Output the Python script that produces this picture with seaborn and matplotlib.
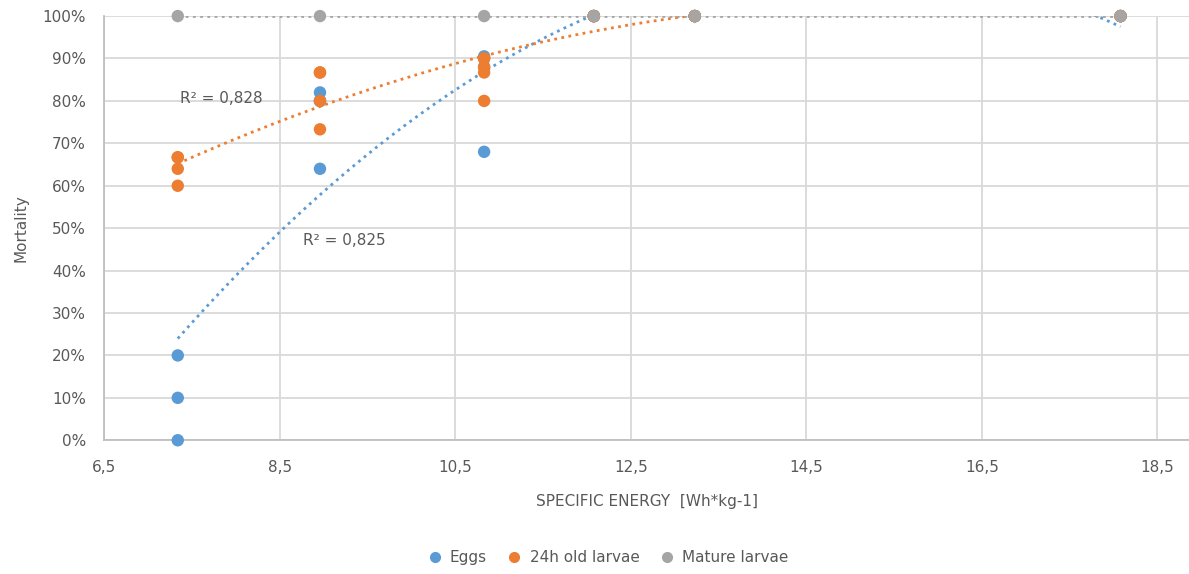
import numpy as np
import pandas as pd
import seaborn as sns
import matplotlib.pyplot as plt
from matplotlib.ticker import PercentFormatter, FuncFormatter
from matplotlib.lines import Line2D

# Dados (energia específica x mortalidade), réplicas sobrepostas incluídas
eggs_x = [7.34, 7.34, 7.34, 8.96, 8.96, 8.96, 8.96, 10.83, 10.83, 10.83,
          12.08, 12.08, 12.08, 13.23, 13.23, 13.23, 18.08, 18.08, 18.08]
eggs_y = [0.00, 0.10, 0.20, 0.64, 0.80, 0.80, 0.82, 0.68, 0.88, 0.905,
          1.00, 1.00, 1.00, 1.00, 1.00, 1.00, 1.00, 1.00, 1.00]

larvae24_x = [7.34, 7.34, 7.34, 7.34, 8.96, 8.96, 8.96, 8.96, 10.83, 10.83, 10.83, 10.83, 10.83,
              12.08, 12.08, 12.08, 13.23, 13.23, 13.23, 18.08, 18.08, 18.08]
larvae24_y = [0.60, 0.64, 0.667, 0.667, 0.733, 0.80, 0.867, 0.867, 0.80, 0.867, 0.88, 0.90, 0.90,
              1.00, 1.00, 1.00, 1.00, 1.00, 1.00, 1.00, 1.00, 1.00]

mature_x = [7.34, 8.96, 10.83, 12.08, 13.23, 18.08]
mature_y = [1.00, 1.00, 1.00, 1.00, 1.00, 1.00]

grupos = ['Eggs', '24h old larvae', 'Mature larvae']
cores = ['#5B9BD5', '#ED7D31', '#A5A5A5']
r2_textos = ['R² = 0,825', 'R² = 0,828']

df = pd.concat([
    pd.DataFrame({'energia': eggs_x, 'mortalidade': eggs_y, 'grupo': grupos[0]}),
    pd.DataFrame({'energia': larvae24_x, 'mortalidade': larvae24_y, 'grupo': grupos[1]}),
    pd.DataFrame({'energia': mature_x, 'mortalidade': mature_y, 'grupo': grupos[2]}),
])

sns.set_style('white')
plt.rcParams['font.family'] = ['DejaVu Sans']
cinza_texto = '#595959'
cinza_grade = '#D9D9D9'

fig = plt.figure(figsize=(11.89, 5.74), dpi=100)
ax = fig.add_axes([0.0875, 0.233, 0.9125, 0.739])

# Linhas de tendência polinomiais (ordem 2), como no Excel
for grupo, cor in zip(grupos, cores):
    d = df[df['grupo'] == grupo]
    coef = np.polyfit(d['energia'], d['mortalidade'], 2)
    xs = np.linspace(d['energia'].min(), d['energia'].max(), 200)
    ax.plot(xs, np.polyval(coef, xs), color=cor, linestyle=(0, (1, 1.6)), linewidth=2, zorder=2)

sns.scatterplot(data=df, x='energia', y='mortalidade', hue='grupo', palette=cores,
                s=80, edgecolor='none', ax=ax, legend=False, zorder=3, clip_on=False)

ax.set_xlim(6.5, 18.86)
ax.set_ylim(0, 1.0)
ax.set_xticks(np.arange(6.5, 18.6, 2.0))
ax.set_yticks(np.arange(0, 1.01, 0.1))
ax.xaxis.set_major_formatter(FuncFormatter(lambda v, p: f'{v:.1f}'.replace('.', ',')))
ax.yaxis.set_major_formatter(PercentFormatter(1.0, decimals=0))
ax.grid(True, color=cinza_grade, linewidth=1.3)
ax.set_axisbelow(True)
for lado in ['top', 'right']:
    ax.spines[lado].set_visible(False)
for lado in ['left', 'bottom']:
    ax.spines[lado].set_color('#BFBFBF')
    ax.spines[lado].set_linewidth(1.3)
ax.tick_params(length=0, labelsize=11, colors=cinza_texto)
ax.tick_params(axis='y', pad=13)
ax.tick_params(axis='x', pad=14)

ax.set_xlabel('SPECIFIC ENERGY  [Wh*kg-1]', fontsize=11, color=cinza_texto, labelpad=14)
ax.set_ylabel('Mortality', fontsize=11, color=cinza_texto, labelpad=10)

ax.text(8.77, 0.47, r2_textos[0], fontsize=11, color=cinza_texto, va='center')
ax.text(7.36, 0.805, r2_textos[1], fontsize=11, color=cinza_texto, va='center')

handles = [Line2D([], [], marker='o', linestyle='', color=c, markersize=7) for c in cores]
fig.legend(handles, grupos, loc='center', bbox_to_anchor=(0.508, 0.028), ncol=3, frameon=False,
           fontsize=11, labelcolor=cinza_texto, handletextpad=0.0, columnspacing=0.8)

fig.savefig('out.png', dpi=100)
